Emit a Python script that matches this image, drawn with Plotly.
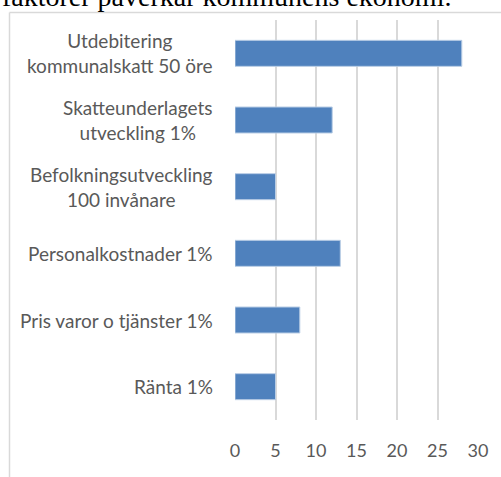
import plotly.graph_objects as go

categories = [
    "Utdebitering<br>kommunalskatt 50 öre",
    "Skatteunderlagets<br>utveckling 1%",
    "Befolkningsutveckling<br>100 invånare",
    "Personalkostnader 1%",
    "Pris varor o tjänster 1%",
    "Ränta 1%",
]
values = [28, 12, 5, 13, 8, 5]
x_ticks = [0, 5, 10, 15, 20, 25, 30]
title_text = "faktorer påverkar kommunens ekonomi."

W, H = 501, 477
x0_px, x1_px = 235, 478
y_top_px, y_bot_px = 20, 420

fig = go.Figure()
fig.add_trace(go.Bar(
    y=categories, x=values, orientation="h",
    marker=dict(color="#4f81bd", line=dict(color="#b9cde5", width=1)),
    width=0.39, showlegend=False, hoverinfo="skip",
))

annotations = []
for c in categories:
    annotations.append(dict(
        x=215 / W, xref="paper", y=c, yref="y",
        text=c, showarrow=False, xanchor="right", yanchor="middle", align="center",
        font=dict(family="Lato, Open Sans, sans-serif", size=19, color="#595959"),
    ))
annotations.append(dict(
    x=0, xref="paper", y=(H - 9) / H, yref="paper",
    text=title_text, showarrow=False, xanchor="left", yanchor="bottom",
    yshift=-5,
    font=dict(family="Liberation Serif, DejaVu Serif, serif", size=28, color="#000000"),
))

fig.update_layout(
    template="none",
    width=W, height=H, autosize=False,
    margin=dict(l=0, r=0, t=0, b=0, pad=0),
    paper_bgcolor="white", plot_bgcolor="white",
    xaxis=dict(
        domain=[x0_px / W, x1_px / W], range=[0, 30], tickvals=x_ticks,
        showgrid=True, gridcolor="#d9d9d9", gridwidth=2, zeroline=False,
        showline=False, ticks="", ticklabelstandoff=18, automargin=False,
        tickfont=dict(family="Lato, Open Sans, sans-serif", size=18, color="#595959"),
        fixedrange=True,
    ),
    yaxis=dict(
        domain=[(H - y_bot_px) / H, (H - y_top_px) / H],
        autorange="reversed", showticklabels=False, showgrid=False, automargin=False,
        zeroline=False, showline=False, ticks="", fixedrange=True,
    ),
    annotations=annotations,
    shapes=[
        dict(type="line", xref="paper", yref="paper", x0=9.5 / W, x1=1.0,
             y0=(H - 12.5) / H, y1=(H - 12.5) / H, line=dict(color="#d9d9d9", width=1.5)),
        dict(type="line", xref="paper", yref="paper", x0=9.5 / W, x1=9.5 / W,
             y0=0, y1=(H - 12.5) / H, line=dict(color="#d9d9d9", width=1.5)),
    ],
    bargap=0.61,
)

fig.write_html(
    "out.html",
    config={"displayModeBar": False},
    post_script="document.body.style.margin='0';document.body.style.overflow='hidden';",
)
